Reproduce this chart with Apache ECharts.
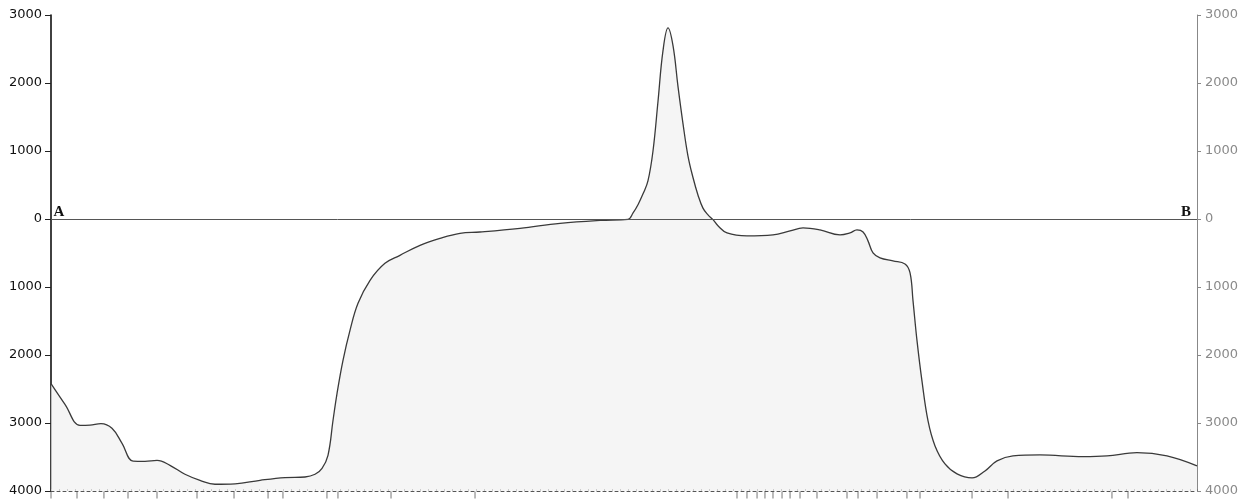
<!DOCTYPE html>
<html>
<head>
<meta charset="utf-8">
<script src="https://cdn.jsdelivr.net/npm/echarts@6/dist/echarts.min.js"></script>
<style>
html,body{margin:0;padding:0;background:#fff;}
#c{width:1256px;height:501px;}
</style>
</head>
<body>
<div id="c"></div>
<script>
// Profile A–B: distance along section (0–100) and height/depth in metres
const distX = [0,1.22,2.53,3.40,4.36,5.32,6.20,7.16,8.20,9.25,10.38,11.69,13.0,14.31,16.06,18.24,20.42,22.16,23.04,23.65,24.17,24.61,24.96,25.48,26.09,26.79,27.84,29.14,30.45,32.2,33.94,35.69,37.43,40.92,44.42,47.91,50.35,50.79,51.22,51.66,52.09,52.53,52.97,53.4,53.84,54.28,54.71,55.15,55.58,56.02,56.46,56.89,57.33,57.77,58.2,58.99,60.73,63.0,64.49,65.62,67.1,68.85,69.72,70.33,70.86,71.29,71.73,72.34,73.47,74.52,74.96,75.22,75.57,76.0,76.53,77.14,78.01,79.06,80.37,81.5,82.55,83.94,86.3,90.05,92.15,94.76,97.38,100];
const heightV = [-2420,-2725,-3034,-3030,-3009,-3078,-3299,-3560,-3563,-3549,-3622,-3754,-3843,-3901,-3894,-3843,-3803,-3794,-3754,-3666,-3475,-2960,-2563,-2078,-1637,-1240,-901,-651,-534,-387,-284,-210,-191,-137,-63,-20,-5,89,210,370,560,1000,1736,2472,2810,2545,1950,1400,930,610,350,160,60,-10,-100,-205,-249,-234,-175,-131,-161,-234,-205,-161,-190,-322,-499,-572,-617,-661,-793,-1205,-1793,-2381,-2970,-3337,-3602,-3749,-3808,-3705,-3558,-3484,-3470,-3494,-3484,-3436,-3484,-3631];
// Sounding station tick positions along the base line
const stationX = [0,2.27,4.62,6.72,9.25,12.74,15.97,18.94,20.24,24.08,25.04,29.67,37.0,59.86,60.73,61.61,62.3,63.0,63.79,64.49,65.36,66.84,69.46,70.42,72.08,74.69,75.83,80.37,83.51,92.58,93.98];
// Axis ticks
const yTicks = {min:-4000, max:3000, step:1000};
const endLabels = ['A','B'];

const profile = distX.map((x,i)=>[x, heightV[i]]);
const stations = stationX.map(x=>[x, yTicks.min]);

const chart = echarts.init(document.getElementById('c'), null, {renderer:'canvas'});
const yAxisBase = {
  type:'value', min:yTicks.min, max:yTicks.max, interval:yTicks.step,
  splitLine:{show:false}
};
chart.setOption({
  animation:false,
  backgroundColor:'#ffffff',
  grid:{left:51, right:59, top:15, bottom:10, containLabel:false},
  xAxis:{
    type:'value', min:0, max:100, interval:0.7,
    axisLine:{show:true, onZero:false, lineStyle:{color:'#555', width:1, type:[3,3]}},
    axisTick:{show:true, inside:true, length:2, lineStyle:{color:'#777'}},
    axisLabel:{show:false},
    splitLine:{show:false}
  },
  yAxis:[
    Object.assign({}, yAxisBase, {
      position:'left',
      axisLine:{show:true, onZero:false, lineStyle:{color:'#111', width:1.6}},
      axisTick:{show:true, length:6, lineStyle:{color:'#222'}},
      axisLabel:{color:'#111', fontFamily:'DejaVu Sans', fontSize:13, margin:9,
        formatter:v=>String(Math.abs(v))}
    }),
    Object.assign({}, yAxisBase, {
      position:'right',
      axisLine:{show:true, onZero:false, lineStyle:{color:'#888', width:1}},
      axisTick:{show:true, length:4, lineStyle:{color:'#888'}},
      axisLabel:{color:'#8a8a8a', fontFamily:'DejaVu Sans', fontSize:13, margin:8,
        formatter:v=>String(Math.abs(v))}
    })
  ],
  series:[
    {
      type:'line', data:profile, smooth:0.4, symbol:'none',
      lineStyle:{color:'#3a3a3a', width:1.3},
      areaStyle:{color:'#f1f1f1', origin:'start'},
      z:3,
      markLine:{
        silent:true, symbol:'none',
        lineStyle:{color:'#555', width:1, type:'solid'},
        label:{show:false},
        data:[{yAxis:0}]
      },
      markPoint:{
        symbol:'circle', symbolSize:1, silent:true,
        itemStyle:{color:'rgba(0,0,0,0)'},
        data:[
          {coord:[0,0], name:endLabels[0],
           label:{show:true, position:'top', distance:0, offset:[8,1], formatter:endLabels[0],
             color:'#111', fontFamily:'Liberation Serif', fontWeight:'bold', fontSize:15}},
          {coord:[100,0], name:endLabels[1],
           label:{show:true, position:'top', distance:0, offset:[-11,1], formatter:endLabels[1],
             color:'#111', fontFamily:'Liberation Serif', fontWeight:'bold', fontSize:15}}
        ]
      }
    },
    {
      type:'scatter', data:stations, symbol:'rect', symbolSize:[1,7], symbolOffset:[0,4],
      itemStyle:{color:'#555'}, silent:true, z:4
    }
  ]
});
</script>
</body>
</html>
